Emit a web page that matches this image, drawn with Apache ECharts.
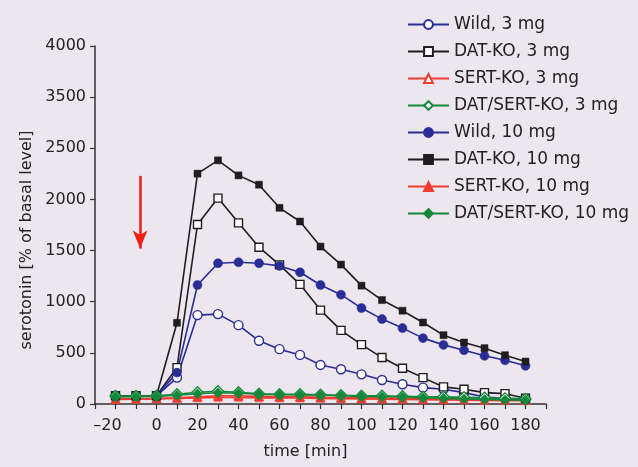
<!DOCTYPE html>
<html><head><meta charset="utf-8">
<script src="https://cdn.jsdelivr.net/npm/echarts@6/dist/echarts.min.js"></script>
<style>html,body{margin:0;padding:0;background:#ece6ef;}#c{width:638px;height:467px;}</style>
</head><body><div id="c"></div>
<script>
var times = [-20,-10,0,10,20,30,40,50,60,70,80,90,100,110,120,130,140,150,160,170,180];
var wild3 = [80,80,80,258,869,879,771,618,536,480,382,340,290,235,193,160,144,111,69,56,46];
var datko3 = [80,80,80,356,1755,2013,1771,1533,1360,1170,918,720,580,454,350,258,167,144,111,101,56];
var sertko3 = [50,52,55,60,70,80,80,75,70,70,65,62,60,58,55,50,48,45,42,40,38];
var datsert3 = [78,78,80,95,115,125,115,100,95,95,90,85,80,80,75,70,70,65,60,55,50];
var wild10 = [80,80,80,307,1163,1376,1386,1376,1350,1288,1163,1069,938,830,742,644,578,526,471,428,373];
var datko10 = [80,80,80,794,2252,2382,2235,2144,1918,1784,1539,1363,1157,1016,912,797,673,601,546,477,415];
var sertko10 = [45,48,50,55,60,65,65,60,60,58,55,52,50,48,45,42,40,38,35,33,32];
var datsert10 = [70,72,75,85,100,110,105,95,90,88,85,80,75,72,68,62,55,50,45,40,38];
var names = ['Wild, 3 mg','DAT-KO, 3 mg','SERT-KO, 3 mg','DAT/SERT-KO, 3 mg','Wild, 10 mg','DAT-KO, 10 mg','SERT-KO, 10 mg','DAT/SERT-KO, 10 mg'];
var yTickLabels = {0:'0',500:'500',1000:'1000',1500:'1500',2000:'2000',2500:'2500',3000:'3500',3500:'4000'};
var arrowX = -8, arrowTop = 2230, arrowTip = 1520;

var BLUE='#2a2d96', BLACK='#1e1e1e', RED='#f23a30', GREEN='#14883a';
function pts(a){return times.map(function(t,i){return [t,a[i]];});}
function ser(name,data,color,symbol,open,size,z){
  return {name:name,type:'line',data:pts(data),symbol:symbol,symbolSize:size,z:z,
    lineStyle:{color:color,width:1.6},
    itemStyle:{color:open?'#ffffff':color,borderColor:color,borderWidth:open?1.4:0.5},
    emphasis:{disabled:true},animation:false};
}
var series=[
  ser(names[0],wild3,BLUE,'circle',true,9,3),
  ser(names[1],datko3,BLACK,'rect',true,8,3),
  ser(names[2],sertko3,RED,'triangle',true,8,2),
  ser(names[3],datsert3,GREEN,'diamond',true,11,4),
  ser(names[4],wild10,BLUE,'circle',false,9,3),
  ser(names[5],datko10,BLACK,'rect',false,7,3),
  ser(names[6],sertko10,RED,'triangle',false,8,2),
  ser(names[7],datsert10,GREEN,'diamond',false,10,4)
];
series[0].markLine={silent:true,animation:false,symbol:['none','arrow'],symbolSize:[11,18],
  label:{show:false},lineStyle:{color:'#f01e14',width:2.5,type:'solid'},
  data:[[{coord:[arrowX,arrowTop]},{coord:[arrowX,arrowTip]}]]};

var chart=echarts.init(document.getElementById('c'));
chart.setOption({
  backgroundColor:'#ece6ef',
  animation:false,
  textStyle:{fontFamily:'DejaVu Sans'},
  grid:{left:95,right:92,top:46,bottom:63,containLabel:false},
  legend:{orient:'vertical',left:402,top:11,itemWidth:41,itemHeight:11,itemGap:10,
    data:names,textStyle:{fontSize:17,color:'#222',lineHeight:17,padding:[0,0,0,0],fontFamily:'DejaVu Sans'}},
  xAxis:{type:'value',min:-30,max:190,interval:10,
    name:'time [min]',nameLocation:'middle',nameGap:40,
    nameTextStyle:{fontSize:16,color:'#222',padding:[0,30,0,0]},
    axisLine:{show:true,onZero:false,lineStyle:{color:'#333',width:1.5}},
    axisTick:{show:true,length:5,lineStyle:{color:'#333',width:1.2}},
    splitLine:{show:false},
    axisLabel:{fontSize:16,color:'#222',margin:14,showMinLabel:true,showMaxLabel:true,
      formatter:function(v){ if(v<-20||v>180||v%20!==0) return ''; return v<0?'\u2013'+(-v)+'\u2002\u2002':String(v);} }},
  yAxis:{type:'value',min:0,max:3500,interval:500,
    name:'serotonin [% of basal level]',nameLocation:'middle',nameGap:60,
    nameTextStyle:{fontSize:16,color:'#222',padding:[0,30,0,0]},
    axisLine:{show:true,onZero:false,lineStyle:{color:'#333',width:1.5}},
    axisTick:{show:true,length:5,lineStyle:{color:'#333',width:1.2}},
    splitLine:{show:false},
    axisLabel:{fontSize:16,color:'#222',margin:9,formatter:function(v){return yTickLabels[v];}}},
  series:series
});
</script></body></html>
